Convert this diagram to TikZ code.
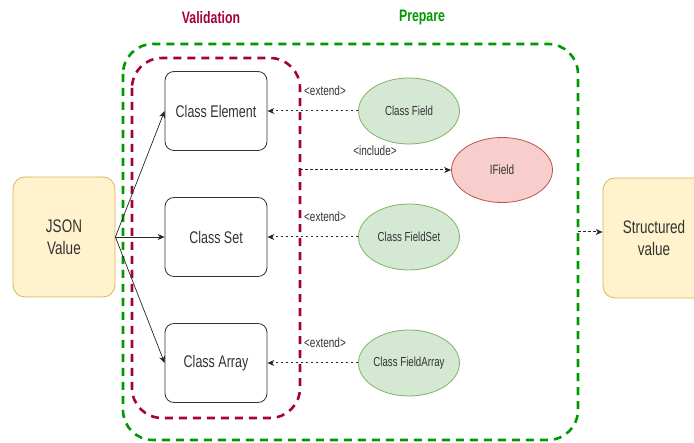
\documentclass[tikz,border=0pt]{standalone}
\usepackage{fontspec}
\usepackage{graphicx}
\setmainfont{Liberation Sans}
\usetikzlibrary{arrows.meta,shapes.geometric}
\definecolor{valc}{HTML}{A50040}
\definecolor{prepc}{HTML}{009900}
\definecolor{yfill}{HTML}{FFF2CC}
\definecolor{ydraw}{HTML}{D6B656}
\definecolor{gfill}{HTML}{D5E8D4}
\definecolor{gdraw}{HTML}{82B366}
\definecolor{rfill}{HTML}{F8CECC}
\definecolor{rdraw}{HTML}{B85450}
\definecolor{txt}{HTML}{333333}
\newcommand{\vstr}[1]{\scalebox{1}[1.35]{#1}}
\tikzset{
  yellowbox/.style={draw=ydraw,fill=yfill,rounded corners=12pt,minimum width=102pt,minimum height=120pt,line width=0.8pt,align=center,font=\fontsize{13.5}{17}\selectfont,text=txt},
  classbox/.style={draw=black!80,fill=white,rounded corners=9pt,minimum width=102pt,minimum height=79pt,line width=0.8pt,font=\fontsize{12.5}{14}\selectfont,text=txt},
  gell/.style={ellipse,draw=gdraw,fill=gfill,minimum width=101pt,minimum height=66pt,line width=0.8pt,font=\fontsize{9.7}{12}\selectfont,text=txt,inner sep=0pt},
  rell/.style={ellipse,draw=rdraw,fill=rfill,minimum width=101pt,minimum height=65pt,line width=0.8pt,font=\fontsize{10}{12}\selectfont,text=txt,inner sep=0pt},
  solidarrow/.style={draw=black!85,line width=0.7pt,-{Stealth[length=7pt,width=6pt]}},
  dotarrow/.style={draw=black!85,line width=1pt,dash pattern=on 2.5pt off 2.5pt,-{Stealth[length=7pt,width=6pt]}},
  lbl/.style={font=\fontsize{10}{11}\selectfont,text=txt,inner sep=1pt},
  groupbox/.style={line width=2.6pt,dash pattern=on 8pt off 6pt,rounded corners=30pt},
  title/.style={font=\bfseries\fontsize{12.3}{14}\selectfont}
}
\begin{document}
\begin{tikzpicture}[x=1pt,y=-1pt]
\useasboundingbox (0,0) rectangle (694,443);
\fill[white] (0,0) rectangle (694,443);
% group boxes
\draw[groupbox,draw=prepc] (123,44) rectangle (578,440);
\draw[groupbox,draw=valc] (132,58) rectangle (300,418);
\node[title,text=valc] (tval) at (211,18) {\vstr{Validation}};
\node[title,text=prepc] (tprep) at (422,18) {\vstr{Prepare}};
\coordinate (valedge) at (300,170);
\coordinate (prepedge) at (578,232);
% nodes
\node[yellowbox] (json) at (64,237) {\vstr{JSON}\\[5pt]\vstr{Value}};
\begin{scope}
\clip (0,0) rectangle (694,443);
\node[yellowbox] (sv) at (654,238) {\vstr{Structured}\\[5pt]\vstr{value}};
\end{scope}
\node[classbox] (elem) at (216,111) {\vstr{Class Element}};
\node[classbox] (set) at (216,237) {\vstr{Class Set}};
\node[classbox] (arr) at (216,363) {\vstr{Class Array}};
\node[gell] (cf) at (409,111) {\vstr{Class Field}};
\node[rell] (if) at (502,170) {\vstr{IField}};
\node[gell] (cfs) at (409,237) {\vstr{Class FieldSet}};
\node[gell] (cfa) at (409,363) {\vstr{Class FieldArray}};
% connectors
\draw[solidarrow] (json.east) -- (elem.west);
\draw[solidarrow] (json.east) -- (set.west);
\draw[solidarrow] (json.east) -- (arr.west);
\draw[dotarrow] (cf.west) -- (elem.east);
\draw[dotarrow] (cfs.west) -- (set.east);
\draw[dotarrow] (cfa.west) -- (arr.east);
\draw[dotarrow] (valedge) -- (if.west);
\draw[dotarrow] (prepedge) -- (sv.west |- prepedge);
% labels
\node[lbl] (l1) at (325,91) {\vstr{<extend>}};
\node[lbl] (l2) at (375,151) {\vstr{<include>}};
\node[lbl] (l3) at (325,217) {\vstr{<extend>}};
\node[lbl] (l4) at (325,343) {\vstr{<extend>}};
\end{tikzpicture}
\end{document}
